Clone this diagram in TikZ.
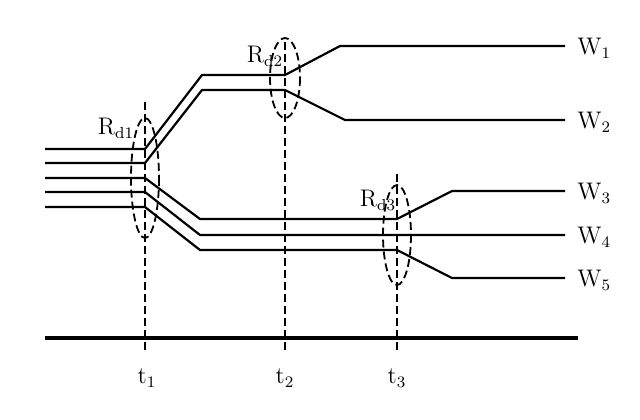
\documentclass[tikz,border=0pt]{standalone}
\usepackage{tikz}
\usetikzlibrary{positioning}

\begin{document}
\begin{tikzpicture}[x=0.5pt, y=-0.5pt,
    filo/.style={line width=1.1pt, line join=round},
    tratt/.style={line width=0.9pt, dash pattern=on 4pt off 2pt},
    etich/.style={inner sep=1pt, font=\large}]
    \useasboundingbox (0,0) rectangle (640,419);

    % Istanti
    \coordinate (t1) at (145,338);
    \coordinate (t2) at (285,338);
    \coordinate (t3) at (397,338);

    % Fili
    \draw[filo] (45,149) -- (145,149) -- (202,75) -- (285,75) -- (340,46) -- (565,46);
    \draw[filo] (45,163) -- (145,163) -- (202,90) -- (285,90) -- (345,120) -- (565,120);
    \draw[filo] (45,178) -- (145,178) -- (200,219) -- (397,219) -- (452,191) -- (565,191);
    \draw[filo] (45,192) -- (145,192) -- (200,235) -- (565,235);
    \draw[filo] (45,207) -- (145,207) -- (200,250) -- (397,250) -- (452,278) -- (565,278);

    \node[etich, right] (w1) at (575,48) {W$_1$};
    \node[etich, right] (w2) at (575,122) {W$_2$};
    \node[etich, right] (w3) at (575,193) {W$_3$};
    \node[etich, right] (w4) at (575,237) {W$_4$};
    \node[etich, right] (w5) at (575,280) {W$_5$};

    % Asse
    \draw[line width=1.6pt] (45,338) -- (578,338);

    % Tratteggi
    \draw[tratt] (t1) ++(0,12) -- (145,100);
    \draw[tratt] (t2) ++(0,12) -- (285,40);
    \draw[tratt] (t3) ++(0,12) -- (397,172);

    \draw[tratt] (145,178) ellipse (14 and 60);
    \draw[tratt] (285,78) ellipse (15 and 40);
    \draw[tratt] (397,235) ellipse (14 and 50);

    \node[etich] (r1) at (116,128) {R$_{\mathrm{d}1}$};
    \node[etich] (r2) at (265,56) {R$_{\mathrm{d}2}$};
    \node[etich] (r3) at (378,200) {R$_{\mathrm{d}3}$};

    \node[etich] (l1) at (147,378) {t$_1$};
    \node[etich] (l2) at (285,378) {t$_2$};
    \node[etich] (l3) at (397,378) {t$_3$};
\end{tikzpicture}
\end{document}
